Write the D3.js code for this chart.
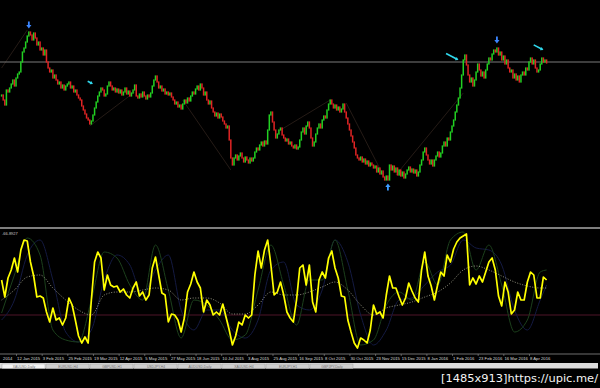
<!DOCTYPE html>
<html lang="en">
<head>
<meta charset="utf-8"/>
<style>
    body { margin: 0; background: #000; }
    svg { display: block; background: #000; }
    .axis text { fill: #d8d8d8; font-family: "Liberation Sans", sans-serif; font-size: 4.2px; }
    .axis line { stroke: #909090; stroke-width: 0.6px; }
    .zig { stroke: #2e221c; stroke-width: 0.8px; fill: none; }
    .osc { fill: none; stroke-linejoin: round; }
</style>
<script src="https://cdnjs.cloudflare.com/ajax/libs/d3/7.8.5/d3.min.js"></script>
</head>
<body>
<svg id="chart" width="600" height="388"></svg>
<script>
    // daily closes, XAUUSD-like, one per bar (open = previous close)
    var closes = [
        1180,1170,1160,1190,1186,1194,1202,1210,1198,1214,
        1222,1226,1246,1266,1274,1286,1298,1306,1300,1290,
        1304,1294,1280,1286,1270,1274,1260,1270,1246,1234,
        1226,1230,1214,1220,1210,1202,1206,1194,1200,1190,
        1198,1202,1206,1194,1198,1186,1190,1180,1174,1170,
        1158,1150,1142,1134,1130,1122,1128,1140,1154,1166,
        1178,1186,1194,1190,1178,1182,1198,1206,1198,1190,
        1194,1186,1192,1184,1190,1180,1186,1194,1182,1188,
        1178,1184,1190,1200,1178,1174,1182,1176,1186,1178,
        1172,1180,1176,1184,1198,1210,1218,1206,1194,1198,
        1188,1192,1182,1186,1180,1184,1176,1170,1162,1166,
        1156,1160,1152,1162,1170,1164,1174,1168,1178,1186,
        1182,1192,1198,1190,1202,1194,1180,1186,1170,1162,
        1168,1154,1146,1138,1144,1134,1142,1136,1128,1122,
        1114,1118,1090,1054,1040,1054,1060,1050,1058,1064,
        1054,1046,1056,1050,1044,1054,1048,1054,1066,1074,
        1070,1080,1086,1078,1088,1082,1110,1140,1146,1126,
        1110,1094,1102,1110,1114,1100,1094,1088,1092,1082,
        1086,1078,1074,1080,1072,1076,1090,1106,1114,1102,
        1118,1126,1114,1094,1078,1086,1102,1114,1122,1114,
        1130,1138,1134,1150,1162,1170,1162,1154,1160,1150,
        1156,1146,1152,1162,1146,1134,1122,1110,1098,1086,
        1074,1060,1054,1050,1056,1046,1052,1042,1048,1038,
        1044,1040,1034,1038,1026,1034,1022,1028,1016,1010,
        1018,1010,1040,1030,1038,1026,1034,1020,1030,1018,
        1026,1014,1022,1030,1036,1026,1032,1024,1030,1018,
        1026,1040,1050,1066,1074,1060,1050,1042,1050,1038,
        1050,1058,1066,1056,1064,1078,1086,1078,1094,1090,
        1106,1118,1130,1146,1160,1174,1194,1220,1250,1260,
        1240,1220,1206,1214,1198,1210,1226,1242,1230,1218,
        1226,1214,1230,1242,1254,1250,1262,1270,1266,1274,
        1260,1266,1250,1258,1242,1250,1234,1226,1230,1214,
        1222,1210,1218,1206,1220,1226,1220,1234,1230,1246,
        1254,1242,1250,1234,1226,1230,1242,1254,1246,1250,
        1244
    ];

    // oscillator, main line, read every 2 bars
    var yellowLine = [
        71,54,73,81,93,79,101,111,110,89,
        75,54,55,53,39,29,43,31,33,26,
        33,53,46,31,15,8,14,8,51,89,
        99,93,61,76,66,64,65,59,62,56,
        53,63,69,55,59,51,56,83,94,76,
        58,56,29,37,36,31,19,33,59,67,
        79,69,63,39,51,46,36,39,36,47,
        34,21,6,15,29,26,36,33,36,76,
        100,83,101,111,86,56,59,69,56,39,
        33,29,51,83,86,66,86,49,39,71,
        79,73,93,100,83,73,55,54,31,19,
        8,3,13,11,8,21,46,37,39,33,
        56,75,63,63,54,46,53,68,60,53,
        49,81,99,75,65,51,66,79,75,96,
        89,102,109,113,115,117,66,73,67,75,
        69,79,89,93,81,55,45,69,59,37,
        41,59,51,51,69,79,76,53,53,74,
        71
    ];
    // slower lines, read every 8 bars (last one at bar 340)
    var slowBars = d3.range(0, 337, 8).concat([340]);
    var greenLine = [38,76,113,96,21,11,9,51,99,93,66,51,106,61,13,51,46,31,11,16,61,106,66,26,71,71,111,61,6,11,46,59,51,89,66,111,119,81,106,66,19,31,79,81];
    var navyLine = [31,51,96,111,71,19,9,21,71,96,86,56,81,96,41,21,41,41,21,13,31,81,89,46,41,61,111,89,36,6,21,51,53,66,79,86,111,103,101,86,41,21,51,66];
    var dottedLine = [51,61,74,76,63,51,41,36,56,59,59,61,63,61,51,53,53,48,37,37,46,59,56,56,59,64,69,61,46,36,43,46,49,54,59,68,81,85,81,75,69,65,63,63];
    var oscLevel = 36;
    var oscLabel = '-66.8927';

    var priceLevel = 1246;
    // [bar, price] -> [bar, price]
    var zigzag = [
        [0, 1234, 16, 1310],
        [55, 1118, 83, 1186],
        [113, 1170, 143, 1030],
        [174, 1110, 205, 1170],
        [215, 1164, 239, 1014],
        [246, 1020, 288, 1184]
    ];
    var downArrows = [[17, 1320], [309, 1290]];
    var upArrows = [[241, 996]];
    var cyanArrows = [[57, 1202], [285, 1250], [338, 1270]];

    var tickBars = d3.range(-7, 330, 16);
    // first label is the tail end of a date cut by the left edge
    var tickLabels = ['2014','12 Jan 2015','3 Feb 2015','25 Feb 2015','19 Mar 2015','12 Apr 2015',
        '5 May 2015','27 May 2015','18 Jun 2015','10 Jul 2015','3 Aug 2015','25 Aug 2015','16 Sep 2015',
        '8 Oct 2015','30 Oct 2015','23 Nov 2015','15 Dec 2015','8 Jan 2016','1 Feb 2016','23 Feb 2016',
        '16 Mar 2016','8 Apr 2016'];
    var tabLabels = ['XAUUSD,Daily','EURUSD,H4','GBPUSD,H1','USDJPY,H4','AUDUSD,Daily','XAUUSD,H4','EURJPY,H1','GBPJPY,Daily'];

    var svg = d3.select('#chart');
    var x = d3.scaleLinear().domain([0, 340]).range([1.6, 546.6]);
    var y = d3.scaleLinear().domain([918, 1370]).range([226, 0]);
    var yo = d3.scaleLinear().domain([0, 120]).range([351, 231]);

    var defs = svg.append('defs');
    defs.append('clipPath').attr('id', 'mainClip')
        .append('rect').attr('x', 0).attr('y', 0).attr('width', 600).attr('height', 226);
    defs.append('clipPath').attr('id', 'oscClip')
        .append('rect').attr('x', 0).attr('y', 229.5).attr('width', 600).attr('height', 124);

    // ---- main pane
    var main = svg.append('g').attr('clip-path', 'url(#mainClip)');

    main.selectAll('line.zig').data(zigzag).enter().append('line')
        .attr('class', 'zig')
        .attr('x1', function(d) { return x(d[0]); })
        .attr('y1', function(d) { return y(d[1]); })
        .attr('x2', function(d) { return x(d[2]); })
        .attr('y2', function(d) { return y(d[3]); });

    main.append('line')
        .attr('x1', 0).attr('x2', 600)
        .attr('y1', y(priceLevel)).attr('y2', y(priceLevel))
        .attr('stroke', '#7a7a7a').attr('stroke-width', 1);

    main.selectAll('rect.candle').data(closes).enter().append('rect')
        .attr('class', 'candle')
        .attr('x', function(d, i) { return x(i) - 0.75; })
        .attr('width', 1.5)
        .attr('y', function(d, i) {
            var o = i ? closes[i - 1] : d;
            return y(Math.max(o, d)) - 0.6;
        })
        .attr('height', function(d, i) {
            var o = i ? closes[i - 1] : d;
            return Math.max(1, Math.abs(y(o) - y(d))) + 1.2;
        })
        .attr('fill', function(d, i) {
            var o = i ? closes[i - 1] : d;
            return d >= o ? '#22d022' : '#e02424';
        });

    // wingdings-like arrows
    function arrowPath(dir) {
        // pointing down when dir = 1, up when dir = -1
        var h = 3.5 * dir;
        return 'M-0.9,' + (-h) + ' L0.9,' + (-h) + ' L0.9,0 L2.6,0 L0,' + h + ' L-2.6,0 L-0.9,0 Z';
    }
    main.selectAll('path.down').data(downArrows).enter().append('path')
        .attr('d', arrowPath(1))
        .attr('fill', '#3c86ff')
        .attr('transform', function(d) { return 'translate(' + x(d[0]) + ',' + y(d[1]) + ')'; });
    main.selectAll('path.up').data(upArrows).enter().append('path')
        .attr('d', arrowPath(-1))
        .attr('fill', '#3c9cff')
        .attr('transform', function(d) { return 'translate(' + x(d[0]) + ',' + y(d[1]) + ')'; });

    var cyanLen = [6, 14, 11];
    main.selectAll('g.cyan').data(cyanArrows).enter().append('g')
        .attr('transform', function(d, i) {
            return 'translate(' + x(d[0]) + ',' + y(d[1]) + ') rotate(28)';
        })
        .each(function(d, i) {
            var g = d3.select(this), L = cyanLen[i];
            g.append('line').attr('x1', -L).attr('y1', 0).attr('x2', -1.5).attr('y2', 0)
                .attr('stroke', '#30d8ec').attr('stroke-width', 1.6);
            g.append('path').attr('d', 'M0,0 L-3,-1.8 L-3,1.8 Z').attr('fill', '#30d8ec');
        });

    // ---- pane separator
    svg.append('line').attr('x1', 0).attr('x2', 600).attr('y1', 228).attr('y2', 228)
        .attr('stroke', '#a8a8a8').attr('stroke-width', 1.6);

    // ---- oscillator pane
    var osc = svg.append('g').attr('clip-path', 'url(#oscClip)');

    osc.append('line').attr('x1', 0).attr('x2', 600)
        .attr('y1', yo(oscLevel)).attr('y2', yo(oscLevel))
        .attr('stroke', '#4e1428').attr('stroke-width', 1);

    var slowGen = d3.line()
        .x(function(d, i) { return x(slowBars[i]); })
        .y(function(d) { return yo(d); })
        .curve(d3.curveMonotoneX);

    osc.append('path').datum(navyLine).attr('class', 'osc')
        .attr('d', slowGen).attr('stroke', '#141a42').attr('stroke-width', 1);
    osc.append('path').datum(greenLine).attr('class', 'osc')
        .attr('d', slowGen).attr('stroke', '#1c401c').attr('stroke-width', 1);
    osc.append('path').datum(dottedLine).attr('class', 'osc')
        .attr('d', slowGen).attr('stroke', '#b4b49c').attr('stroke-width', 0.8)
        .attr('stroke-dasharray', '1,1.6');

    osc.append('path').datum(yellowLine).attr('class', 'osc')
        .attr('d', d3.line()
            .x(function(d, i) { return x(i * 2); })
            .y(function(d) { return yo(d); }))
        .attr('stroke', '#ffff00').attr('stroke-width', 1.7);

    svg.append('text').attr('x', 2).attr('y', 234.6)
        .attr('fill', '#c8c8c8').attr('font-family', 'Liberation Sans, sans-serif')
        .attr('font-size', 4).text(oscLabel);

    // ---- time axis
    svg.append('line').attr('x1', 0).attr('x2', 600).attr('y1', 354).attr('y2', 354)
        .attr('stroke', '#8a8a8a').attr('stroke-width', 0.8);

    var axis = svg.append('g').attr('class', 'axis')
        .attr('transform', 'translate(0,354)')
        .call(d3.axisBottom(x).tickValues(tickBars)
            .tickFormat(function(d, i) { return tickLabels[i]; })
            .tickSize(2).tickPadding(1));
    axis.select('.domain').remove();
    axis.selectAll('text').attr('text-anchor', 'start')
        .attr('x', function(d, i) { return i ? 0.6 : 2.6 - x(d); });

    // ---- chart tabs strip
    svg.append('rect').attr('x', 0).attr('y', 363).attr('width', 598).attr('height', 5.5)
        .attr('fill', '#dcdcdc');
    var tabW = 44;
    var tabs = svg.append('g');
    tabs.selectAll('rect').data(tabLabels).enter().append('rect')
        .attr('x', function(d, i) { return 2 + i * tabW; })
        .attr('y', 364).attr('width', tabW - 1).attr('height', 4.5)
        .attr('fill', function(d, i) { return i ? '#cfcfcf' : '#f4f4f4'; })
        .attr('stroke', '#9a9a9a').attr('stroke-width', 0.4);
    tabs.selectAll('text').data(tabLabels).enter().append('text')
        .attr('x', function(d, i) { return 2 + i * tabW + tabW / 2; })
        .attr('y', 367.6).attr('text-anchor', 'middle')
        .attr('font-family', 'Liberation Sans, sans-serif').attr('font-size', 3.4)
        .attr('fill', '#707070').text(function(d) { return d; });

    svg.append('text').attr('x', 441).attr('y', 381.5)
        .attr('fill', '#f4f4f4').attr('font-family', 'DejaVu Sans, sans-serif')
        .attr('font-size', 11).attr('textLength', 157).attr('lengthAdjust', 'spacingAndGlyphs')
        .text('[1485x913]https://upic.me/');
</script>
</body>
</html>
